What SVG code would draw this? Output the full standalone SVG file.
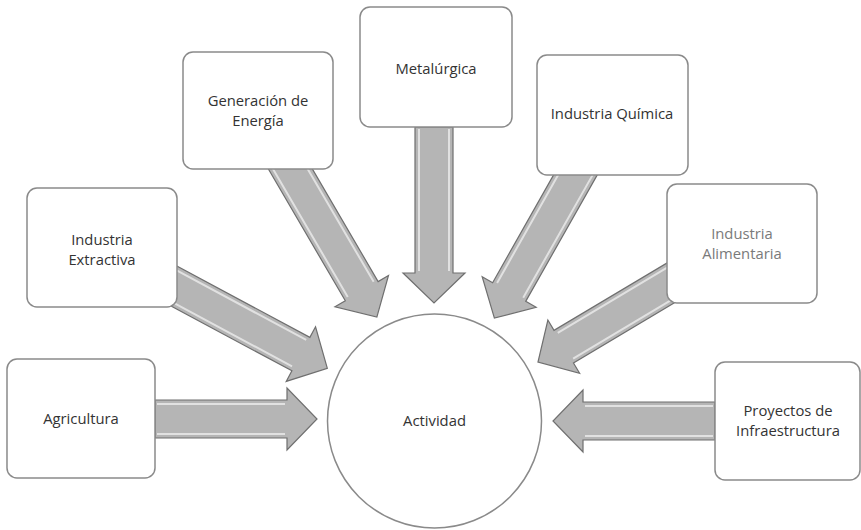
<svg xmlns="http://www.w3.org/2000/svg" width="861" height="530" viewBox="0 0 861 530">
  <style>
    .box { fill: #ffffff; stroke: #8a8a8a; stroke-width: 1.5; }
    .hub { fill: #ffffff; stroke: #8a8a8a; stroke-width: 1.5; }
    .arrow { fill: #b5b5b5; stroke: #6f6f6f; stroke-width: 1.2; stroke-linejoin: miter; }
    .shine { stroke: #ffffff; stroke-width: 2; opacity: 0.6; fill: none; }
    .label { font-family: "Open Sans", "Liberation Sans", sans-serif; font-size: 14.8px; font-weight: 500; fill: #333333; text-anchor: middle; }
    .faint { fill: #7a7a7a; font-weight: 400; }
  </style>
  <rect width="861" height="530" fill="#ffffff"/>

  <!-- block arrows: each drawn pointing along +x, then placed with a transform -->
  <g id="connectors">
    <g transform="translate(155,419)">
      <path class="arrow" d="M0,-19 H132 V-31 L162,0 L132,31 V19 H0 Z"/>
      <path class="shine" d="M2,-15 H130 M2,15 H130"/>
    </g>
    <g transform="translate(715,421) rotate(180)">
      <path class="arrow" d="M0,-19 H132 V-31 L162,0 L132,31 V19 H0 Z"/>
      <path class="shine" d="M2,-15 H130 M2,15 H130"/>
    </g>
    <g transform="translate(434,127) rotate(90)">
      <path class="arrow" d="M0,-19 H146 V-31 L176,0 L146,31 V19 H0 Z"/>
      <path class="shine" d="M2,-15 H144 M2,15 H144"/>
    </g>
    <g transform="translate(281,153) rotate(59.7)">
      <path class="arrow" d="M0,-19 H160 V-31 L190,0 L160,31 V19 H0 Z"/>
      <path class="shine" d="M2,-15 H158 M2,15 H158"/>
    </g>
    <g transform="translate(159,278) rotate(28.2)">
      <path class="arrow" d="M0,-19 H161 V-31 L191,0 L161,31 V19 H0 Z"/>
      <path class="shine" d="M2,-15 H159 M2,15 H159"/>
    </g>
    <g transform="translate(585,158) rotate(119.5)">
      <path class="arrow" d="M0,-19 H154 V-31 L184,0 L154,31 V19 H0 Z"/>
      <path class="shine" d="M2,-15 H152 M2,15 H152"/>
    </g>
    <g transform="translate(684,275) rotate(149.2)">
      <path class="arrow" d="M0,-19 H140 V-31 L170,0 L140,31 V19 H0 Z"/>
      <path class="shine" d="M2,-15 H138 M2,15 H138"/>
    </g>
  </g>

  <g id="agricultura">
    <rect class="box" x="7" y="359" width="148" height="119" rx="10"/>
    <text class="label" x="81" y="424">Agricultura</text>
  </g>
  <g id="industria-extractiva">
    <rect class="box" x="27" y="188" width="150" height="119" rx="10"/>
    <text class="label" x="102" y="245">Industria</text>
    <text class="label" x="102" y="265">Extractiva</text>
  </g>
  <g id="generacion-energia">
    <rect class="box" x="183" y="52" width="150" height="117" rx="10"/>
    <text class="label" x="258" y="106">Generación de</text>
    <text class="label" x="258" y="126">Energía</text>
  </g>
  <g id="metalurgica">
    <rect class="box" x="360" y="7" width="152" height="120" rx="10"/>
    <text class="label" x="436" y="74">Metalúrgica</text>
  </g>
  <g id="industria-quimica">
    <rect class="box" x="537" y="55" width="151" height="120" rx="10"/>
    <text class="label" x="612" y="119">Industria Química</text>
  </g>
  <g id="industria-alimentaria">
    <rect class="box" x="667" y="184" width="150" height="119" rx="10"/>
    <text class="label faint" x="742" y="239">Industria</text>
    <text class="label faint" x="742" y="259">Alimentaria</text>
  </g>
  <g id="proyectos-infraestructura">
    <rect class="box" x="715" y="362" width="145" height="118" rx="10"/>
    <text class="label" x="788" y="416">Proyectos de</text>
    <text class="label" x="788" y="436">Infraestructura</text>
  </g>
  <g id="actividad">
    <circle class="hub" cx="434.5" cy="421" r="107"/>
    <text class="label" x="434.5" y="426">Actividad</text>
  </g>
</svg>
